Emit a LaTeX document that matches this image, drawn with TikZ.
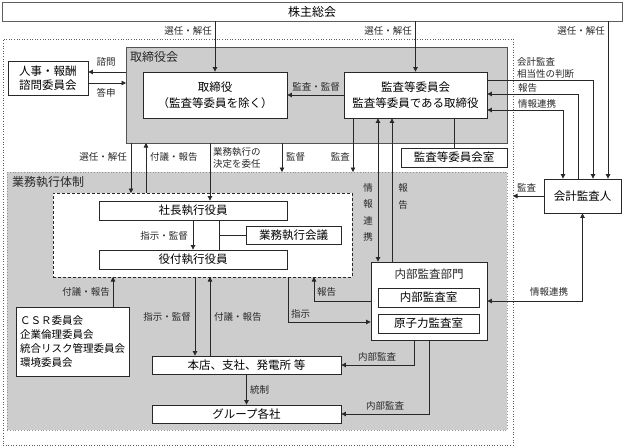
\documentclass[tikz,border=0pt]{standalone}
\usepackage{fontspec}
\setmainfont{Noto Sans CJK JP}
\usetikzlibrary{arrows.meta,calc}
\definecolor{panel}{RGB}{205,205,205}
\definecolor{ink}{RGB}{40,40,40}
\begin{document}
\begin{tikzpicture}[x=1pt,y=-1pt,
  box/.style={draw=ink,line width=0.8pt,fill=white,inner sep=0pt,font=\fontsize{11.5}{15.5}\selectfont,align=center},
  lbl/.style={inner sep=0pt,font=\fontsize{9.5}{12}\selectfont,text=ink},
  vlbl/.style={inner sep=0pt,font=\fontsize{9.5}{16.4}\selectfont,text=ink,align=center},
  arr/.style={draw=ink,line width=0.7pt,-{Triangle[length=4.5pt,width=4.5pt]}},
  darr/.style={draw=ink,line width=0.7pt,{Triangle[length=4.5pt,width=4.5pt]}-{Triangle[length=4.5pt,width=4.5pt]}},
  ln/.style={draw=ink,line width=0.7pt},
  panelbox/.style={inner sep=0pt,outer sep=0pt},
]
\useasboundingbox[fill=white] (0,0) rectangle (624,447);

% panels
\node[panelbox,draw=ink!75,line width=0.6pt,dotted,minimum width=510pt,minimum height=406pt] (outer) at (258,242) {};
\node[box,draw=ink!75,minimum width=620pt,minimum height=19pt,font=\fontsize{12}{14}\selectfont] (kabu) at (312,11.5) {株主総会};
\node[panelbox,fill=panel,draw=ink!80,line width=0.9pt,minimum width=381pt,minimum height=96pt] (tbk) at (316.5,95) {};
\node[panelbox,fill=panel,draw=ink!50,line width=0.8pt,dotted,minimum width=500pt,minimum height=258pt] (gyomu) at (257,301) {};
\node[panelbox,fill=white,draw=ink,line width=0.7pt,densely dashed,minimum width=299pt,minimum height=84pt] (wbox) at (202.5,235) {};
\node[anchor=west,inner sep=0pt,font=\fontsize{12}{14}\selectfont,text=ink] (tbkl) at (130,57) {取締役会};
\node[anchor=west,inner sep=0pt,font=\fontsize{12}{14}\selectfont,text=ink] (gyomul) at (12,182) {業務執行体制};

% boxes
\node[box,minimum width=144pt,minimum height=46pt] (tori) at (215,95) {取締役\\（監査等委員を除く）};
\node[box,minimum width=143pt,minimum height=46pt] (kansa) at (415.5,95) {監査等委員会\\監査等委員である取締役};
\node[box,minimum width=80pt,minimum height=34pt,font=\fontsize{11.5}{13.5}\selectfont] (jinji) at (48,78) {人事・報酬\\諮問委員会};
\node[box,minimum width=106pt,minimum height=19pt] (kansashitsu) at (454,157.5) {監査等委員会室};
\node[box,minimum width=188pt,minimum height=19pt] (shacho) at (193,210.5) {社長執行役員};
\node[box,minimum width=188pt,minimum height=19pt] (yakutsuki) at (193,259.5) {役付執行役員};
\node[box,minimum width=95pt,minimum height=18pt] (kaigi) at (293.5,235) {業務執行会議};
\node[box,minimum width=116pt,minimum height=78pt] (naibu) at (429,301) {};
\node[inner sep=0pt,font=\fontsize{11.5}{14}\selectfont,text=ink] (naibul) at (429,274) {内部監査部門};
\node[box,minimum width=101pt,minimum height=19pt] (naibushitsu) at (428.5,297.5) {内部監査室};
\node[box,minimum width=101pt,minimum height=19pt] (genshiryoku) at (428.5,323.5) {原子力監査室};
\node[box,minimum width=113pt,minimum height=69pt,align=left,font=\fontsize{10.5}{14}\selectfont] (csr) at (72.5,341.5) {ＣＳＲ委員会\\企業倫理委員会\\統合リスク管理委員会\\環境委員会};
\node[box,minimum width=189pt,minimum height=18pt] (honten) at (246.5,365) {本店、支社、発電所 等};
\node[box,minimum width=189pt,minimum height=18pt] (group) at (246.5,414) {グループ各社};
\node[box,minimum width=77pt,minimum height=34pt] (kaikei) at (582.5,196) {会計監査人};

% helper coordinates
\coordinate (xk) at (608,0);
\coordinate (ya) at (0,72);
\coordinate (yb) at (0,83);
\coordinate (x131) at (131,0);
\coordinate (x146) at (146,0);
\coordinate (x210) at (210,0);
\coordinate (x282) at (282,0);
\coordinate (x353) at (353,0);
\coordinate (x378) at (378,0);
\coordinate (x392) at (392,0);
\coordinate (x219) at (219,0);
\coordinate (x113) at (113,0);
\coordinate (x195) at (195,0);
\coordinate (x288) at (288,0);
\coordinate (y322) at (0,322);
\coordinate (x314) at (314,0);
\coordinate (x414) at (414,0);
\coordinate (y80) at (0,80);
\coordinate (x593) at (593,0);
\coordinate (x578) at (578,0);
\coordinate (y94) at (0,94);
\coordinate (x563) at (563,0);
\coordinate (y110) at (0,110);

% connectors
\draw[arr] (tori.north |- kabu.south) -- (tori.north);
\draw[arr] (kansa.north |- kabu.south) -- (kansa.north);
\draw[arr] (xk |- kabu.south) -- (xk |- kaikei.north);
\draw[arr] (kansa.west) -- (tori.east);
\draw[arr] (tbk.west |- ya) -- (jinji.east |- ya);
\draw[arr] (jinji.east |- yb) -- (tbk.west |- yb);
\draw[arr] (x131 |- tbk.south) -- (x131 |- wbox.north);
\draw[arr] (x146 |- wbox.north) -- (x146 |- tbk.south);
\draw[arr] (x210 |- tbk.south) -- (x210 |- shacho.north);
\draw[arr] (x282 |- tbk.south) -- (x282 |- gyomu.north);
\draw[arr] (x353 |- kansa.south) -- (x353 |- gyomu.north);
\draw[darr] (x378 |- kansa.south) -- (x378 |- naibu.north);
\draw[arr] (x392 |- naibu.north) -- (x392 |- kansa.south);
\draw[ln] (kansa.south -| kansashitsu.north) -- (kansashitsu.north);
\draw[arr] (shacho.south) -- (yakutsuki.north);
\draw[ln] (x219 |- shacho.south) -- (x219 |- yakutsuki.north);
\draw[ln] (x219 |- kaigi.west) -- (kaigi.west);
\draw[arr] (x113 |- csr.north) -- (x113 |- wbox.south);
\draw[arr] (x195 |- wbox.south) -- (x195 |- honten.north);
\draw[arr] (x210 |- honten.north) -- (x210 |- wbox.south);
\draw[arr] (x288 |- wbox.south) |- (naibu.west |- y322);
\draw[arr] (naibu.west) -| (x314 |- wbox.south);
\draw[arr] (honten.south) -- (group.north);
\draw[arr] (x414 |- naibu.south) |- (honten.east);
\draw[arr] (naibu.south) |- (group.east);
\draw[arr] (kansa.east |- y80) -| (x593 |- kaikei.north);
\draw[arr] (x578 |- kaikei.north) |- (kansa.east |- y94);
\draw[darr] (x563 |- kaikei.north) |- (kansa.east |- y110);
\draw[arr] (kaikei.west) -- (kaikei.west -| outer.east);
\draw[darr] (kaikei.south) |- (naibu.east);

% labels
\node[lbl,anchor=east] (l1) at (212,31) {選任・解任};
\node[lbl,anchor=east] (l2) at (412,31) {選任・解任};
\node[lbl,anchor=east] (l3) at (605,31) {選任・解任};
\node[lbl] (l4) at (316,87) {監査・監督};
\node[lbl] (l5) at (106,62) {諮問};
\node[lbl] (l6) at (106,93) {答申};
\node[lbl,anchor=east] (l7) at (127,157) {選任・解任};
\node[lbl,anchor=west] (l8) at (150,157) {付議・報告};
\node[lbl,anchor=west,align=left] (l9) at (213,157.5) {業務執行の\\決定を委任};
\node[lbl,anchor=west] (l10) at (286,157) {監督};
\node[lbl,anchor=east] (l11) at (350,157) {監査};
\node[vlbl] (l12) at (368,212.5) {情\\報\\連\\携};
\node[vlbl] (l13) at (403,196.5) {報\\告};
\node[lbl,anchor=east] (l14) at (188,236) {指示・監督};
\node[lbl,anchor=east] (l15) at (110,292) {付議・報告};
\node[lbl,anchor=east] (l16) at (191,317) {指示・監督};
\node[lbl,anchor=west] (l17) at (214,317) {付議・報告};
\node[lbl,anchor=west] (l18) at (291,314) {指示};
\node[lbl,anchor=west] (l19) at (317,292) {報告};
\node[lbl,anchor=west] (l20) at (250,390) {統制};
\node[lbl] (l21) at (377,357) {内部監査};
\node[lbl] (l22) at (385,406) {内部監査};
\node[lbl,anchor=west,align=left] (l23) at (517,67.5) {会計監査\\相当性の判断};
\node[lbl,anchor=west] (l24) at (518,88) {報告};
\node[lbl,anchor=west] (l25) at (518,104) {情報連携};
\node[lbl,anchor=west] (l26) at (517,188) {監査};
\node[lbl] (l27) at (549,292) {情報連携};
\end{tikzpicture}
\end{document}
